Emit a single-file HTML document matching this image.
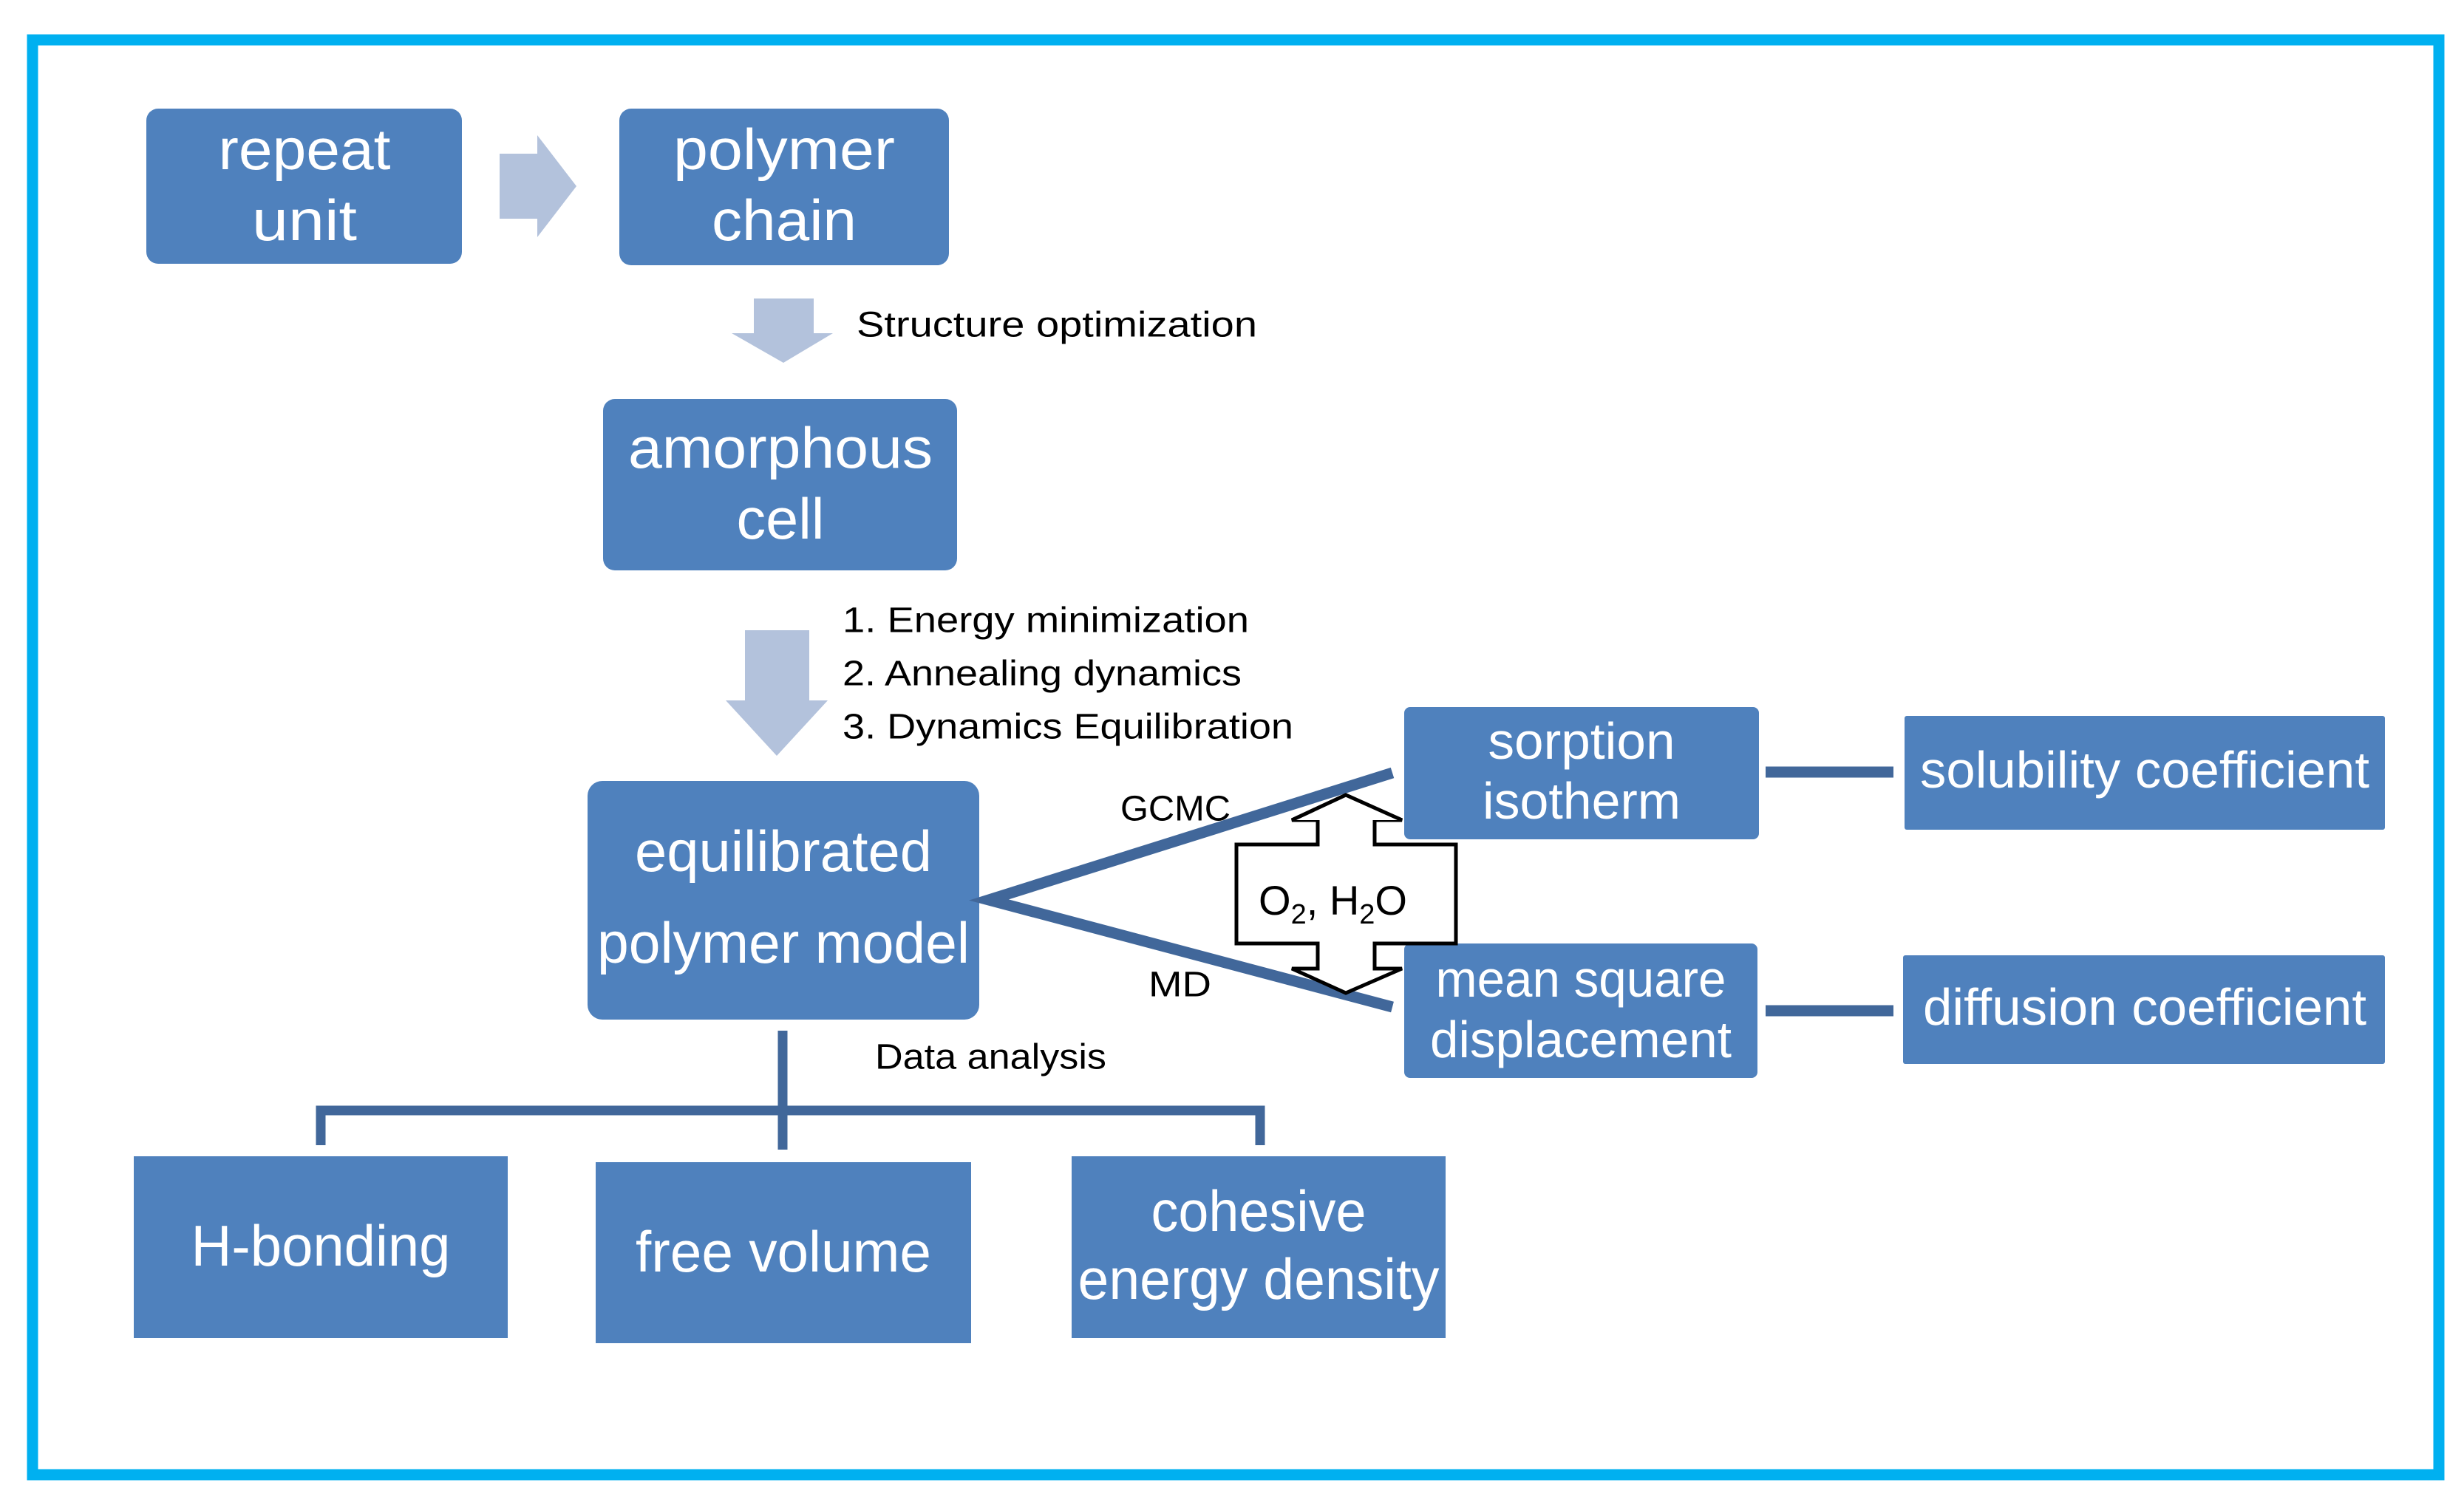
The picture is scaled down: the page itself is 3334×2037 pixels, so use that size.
<!DOCTYPE html>
<html><head><meta charset="utf-8"><style>html,body{margin:0;padding:0;background:#fff}svg{display:block}</style></head>
<body>
<svg width="3334" height="2037" viewBox="0 0 3334 2037" xmlns="http://www.w3.org/2000/svg" font-family="Liberation Sans, sans-serif">
<rect x="0" y="0" width="3334" height="2037" fill="#fff"/>
<rect x="44" y="54" width="3256" height="1942" fill="none" stroke="#00b0f0" stroke-width="15"/>
<g fill="#4f81bd">
<rect x="198" y="147" width="427" height="210" rx="16"/>
<rect x="838" y="147" width="446" height="212" rx="16"/>
<rect x="816" y="540" width="479" height="232" rx="16"/>
<rect x="795" y="1057" width="530" height="323" rx="20"/>
<rect x="1900" y="957" width="480" height="179" rx="8"/>
<rect x="1900" y="1277" width="478" height="182" rx="8"/>
<rect x="2577" y="969" width="650" height="154" rx="3"/>
<rect x="2575" y="1293" width="652" height="147" rx="3"/>
<rect x="181" y="1565" width="506" height="246"/>
<rect x="806" y="1573" width="508" height="245"/>
<rect x="1450" y="1565" width="506" height="246"/>
</g>
<g fill="#b3c2dc">
<polygon points="676,208 727,208 727,183 780,252 727,321 727,296 676,296"/>
<polygon points="1020,404 1101,404 1101,451 1127,451 1060,491 990,451 1020,451"/>
<polygon points="1008,853 1095,853 1095,948 1120,948 1051,1023 982,948 1008,948"/>
</g>
<g stroke="#41679a" stroke-width="15" fill="none">
<polyline points="1884,1046 1338,1218 1884,1363"/>
<line x1="2389" y1="1045" x2="2562" y2="1045"/>
<line x1="2389" y1="1368" x2="2562" y2="1368"/>
</g>
<g stroke="#41679a" stroke-width="13" fill="none">
<line x1="1059" y1="1395" x2="1059" y2="1556"/>
<polyline points="434,1550 434,1503 1705,1503 1705,1550"/>
</g>
<polygon points="1821,1076 1897,1110 1860,1110 1860,1143 1970,1143 1970,1277 1860,1277 1860,1311 1897,1311 1821,1344 1748,1311 1783,1311 1783,1277 1673,1277 1673,1143 1783,1143 1783,1110 1748,1110" fill="#fff" stroke="#000" stroke-width="5" stroke-linejoin="miter"/>
<polygon points="1821,1078 1895,1110 1748,1110" fill="#fff" stroke="none"/>
<polyline points="1748,1110 1821,1076 1897,1110" fill="none" stroke="#000" stroke-width="5"/>
<g fill="#fff" font-size="78" text-anchor="middle" dominant-baseline="central" lengthAdjust="spacingAndGlyphs">
<text x="412" y="202" textLength="233" lengthAdjust="spacingAndGlyphs">repeat</text>
<text x="412" y="298" textLength="142" lengthAdjust="spacingAndGlyphs">unit</text>
<text x="1061" y="202" textLength="300" lengthAdjust="spacingAndGlyphs">polymer</text>
<text x="1061" y="298" textLength="196" lengthAdjust="spacingAndGlyphs">chain</text>
<text x="1056" y="606" textLength="412" lengthAdjust="spacingAndGlyphs">amorphous</text>
<text x="1056" y="702" textLength="119" lengthAdjust="spacingAndGlyphs">cell</text>
<text x="1060" y="1152" textLength="402" lengthAdjust="spacingAndGlyphs">equilibrated</text>
<text x="1060" y="1276" textLength="504" lengthAdjust="spacingAndGlyphs">polymer model</text>
<text x="434" y="1686" textLength="351" lengthAdjust="spacingAndGlyphs">H-bonding</text>
<text x="1060" y="1694" textLength="400" lengthAdjust="spacingAndGlyphs">free volume</text>
<text x="1703" y="1639" textLength="291" lengthAdjust="spacingAndGlyphs">cohesive</text>
<text x="1703" y="1731" textLength="489" lengthAdjust="spacingAndGlyphs">energy density</text>
</g>
<g fill="#fff" font-size="70" text-anchor="middle" dominant-baseline="central">
<text x="2140" y="1003" textLength="253" lengthAdjust="spacingAndGlyphs">sorption</text>
<text x="2140" y="1084" textLength="268" lengthAdjust="spacingAndGlyphs">isotherm</text>
<text x="2139" y="1325" textLength="393" lengthAdjust="spacingAndGlyphs">mean square</text>
<text x="2139" y="1407" textLength="408" lengthAdjust="spacingAndGlyphs">displacement</text>
<text x="2902" y="1042" textLength="608" lengthAdjust="spacingAndGlyphs">solubility coefficient</text>
<text x="2902" y="1363" textLength="600" lengthAdjust="spacingAndGlyphs">diffusion coefficient</text>
</g>
<g fill="#000" font-size="48" dominant-baseline="central">
<text x="1159" y="440" textLength="542" lengthAdjust="spacingAndGlyphs">Structure optimization</text>
<text x="1140" y="840" textLength="550" lengthAdjust="spacingAndGlyphs">1. Energy minimization</text>
<text x="1140" y="912" textLength="540" lengthAdjust="spacingAndGlyphs">2. Annealing dynamics</text>
<text x="1140" y="984" textLength="610" lengthAdjust="spacingAndGlyphs">3. Dynamics Equilibration</text>
<text x="1184" y="1431" textLength="313" lengthAdjust="spacingAndGlyphs">Data analysis</text>
<text x="1516" y="1095" textLength="149" lengthAdjust="spacingAndGlyphs">GCMC</text>
<text x="1554" y="1333" textLength="85" lengthAdjust="spacingAndGlyphs">MD</text>
</g>
<text x="1703" y="1238" font-size="56" fill="#000">O<tspan font-size="38" dy="12">2</tspan><tspan dy="-12">, H</tspan><tspan font-size="38" dy="12">2</tspan><tspan dy="-12">O</tspan></text>
</svg>
</body></html>
